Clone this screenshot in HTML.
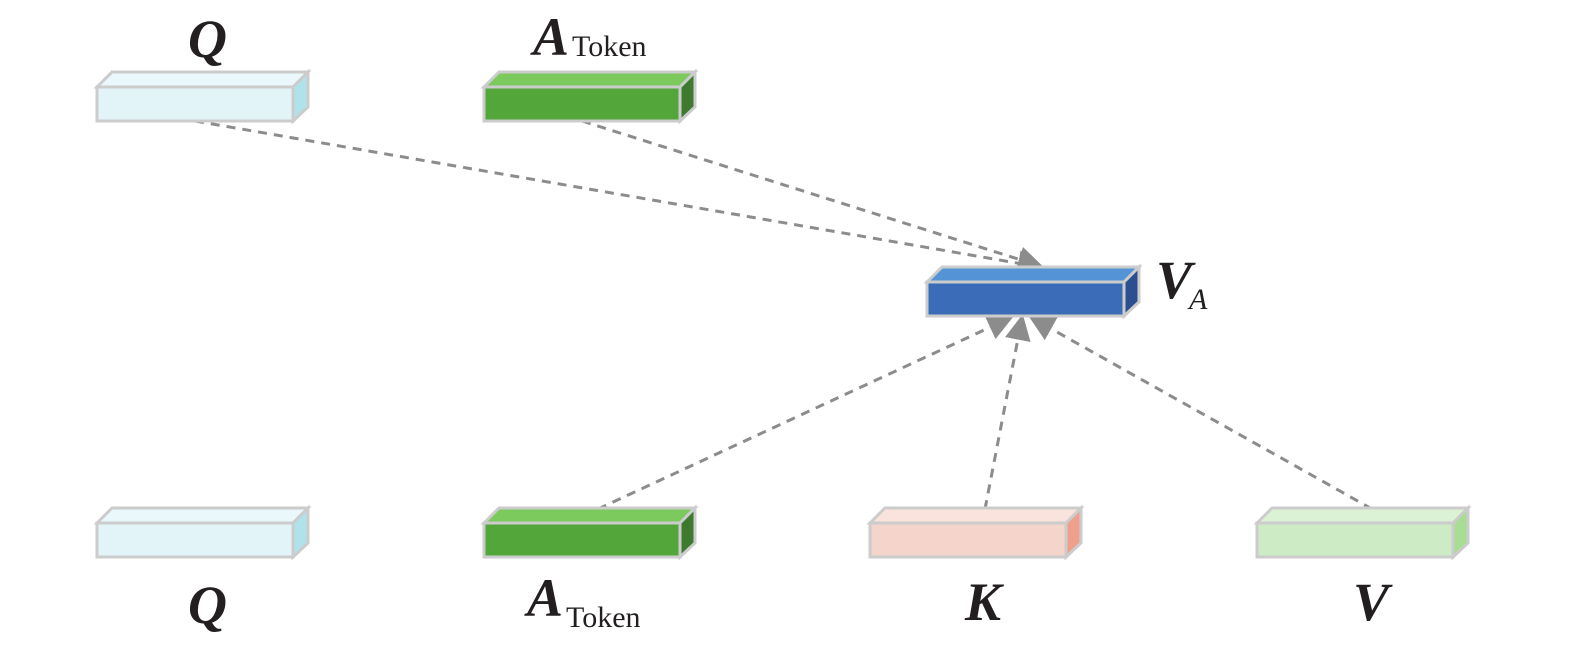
<!DOCTYPE html>
<html><head><meta charset="utf-8"><style>
html,body{margin:0;padding:0;background:#fff;}
svg{display:block;}
.L{font-family:"Liberation Serif",serif;font-weight:bold;font-style:italic;font-size:54px;fill:#231f20;}
.s{font-family:"Liberation Serif",serif;font-weight:normal;font-style:normal;font-size:30px;fill:#231f20;}
.si{font-family:"Liberation Serif",serif;font-weight:normal;font-style:italic;font-size:30px;fill:#231f20;}
</style></head><body>
<svg width="1575" height="648" viewBox="0 0 1575 648" xmlns="http://www.w3.org/2000/svg">
<defs>
<marker id="ar" markerWidth="10" markerHeight="10" refX="8" refY="5" orient="auto" markerUnits="userSpaceOnUse" viewBox="0 0 10 10">
<path d="M0,0 L10,5 L0,10 Z" fill="#8c8c8c"/></marker>
<marker id="ar2" markerWidth="26" markerHeight="26" refX="22" refY="13" orient="auto" markerUnits="userSpaceOnUse">
<path d="M0,0 L26,13 L0,26 Z" fill="#8c8c8c"/></marker>
</defs>
<g stroke="#8c8c8c" stroke-width="3" stroke-dasharray="9 7" fill="none">
<line x1="195" y1="121" x2="1040" y2="267" marker-end="url(#ar2)"/>
<line x1="582" y1="121" x2="1040" y2="266" marker-end="url(#ar2)"/>
<line x1="598" y1="509" x2="1010" y2="318" marker-end="url(#ar2)"/>
<line x1="985" y1="509" x2="1022" y2="318" marker-end="url(#ar2)"/>
<line x1="1372" y1="509" x2="1032" y2="318" marker-end="url(#ar2)"/>
</g>
<g stroke="#cccccc" stroke-width="3" stroke-linejoin="miter">
<!-- box template: front x,y w196 h34 ; offset 15 -->
<g><polygon points="97,87 112,72 308,72 293,87" fill="#eaf7fb"/><polygon points="293,87 308,72 308,107 293,121" fill="#b0e2ec"/><rect x="97" y="87" width="196" height="34" fill="#e2f4f8"/></g>
<g><polygon points="484,87 499,72 695,72 680,87" fill="#7cc95e"/><polygon points="680,87 695,72 695,107 680,121" fill="#3d7a2f"/><rect x="484" y="87" width="196" height="34" fill="#52a63a"/></g>
<g><polygon points="927,282 942,267 1139,267 1124,282" fill="#5393d6"/><polygon points="1124,282 1139,267 1139,302 1124,316" fill="#2e4f8f"/><rect x="927" y="282" width="197" height="34" fill="#3a6cb8"/></g>
<g><polygon points="97,523 112,508 308,508 293,523" fill="#eaf7fb"/><polygon points="293,523 308,508 308,543 293,557" fill="#b0e2ec"/><rect x="97" y="523" width="196" height="34" fill="#e2f4f8"/></g>
<g><polygon points="484,523 499,508 695,508 680,523" fill="#7cc95e"/><polygon points="680,523 695,508 695,543 680,557" fill="#3d7a2f"/><rect x="484" y="523" width="196" height="34" fill="#52a63a"/></g>
<g><polygon points="870,523 885,508 1081,508 1066,523" fill="#fae3dc"/><polygon points="1066,523 1081,508 1081,543 1066,557" fill="#eea08c"/><rect x="870" y="523" width="196" height="34" fill="#f5d5cb"/></g>
<g><polygon points="1257,523 1272,508 1468,508 1453,523" fill="#dcf2d4"/><polygon points="1453,523 1468,508 1468,543 1453,557" fill="#a8dd94"/><rect x="1257" y="523" width="196" height="34" fill="#cdebc4"/></g>
</g>
<text class="L" x="188" y="57">Q</text>
<text class="L" x="533" y="55">A</text><text class="s" x="572" y="56">Token</text>
<text class="L" x="1156" y="298">V</text><text class="si" x="1189" y="309">A</text>
<text class="L" x="188" y="623">Q</text>
<text class="L" x="527" y="616">A</text><text class="s" x="566" y="627">Token</text>
<text class="L" x="965" y="620">K</text>
<text class="L" x="1353" y="620">V</text>
</svg>
</body></html>
